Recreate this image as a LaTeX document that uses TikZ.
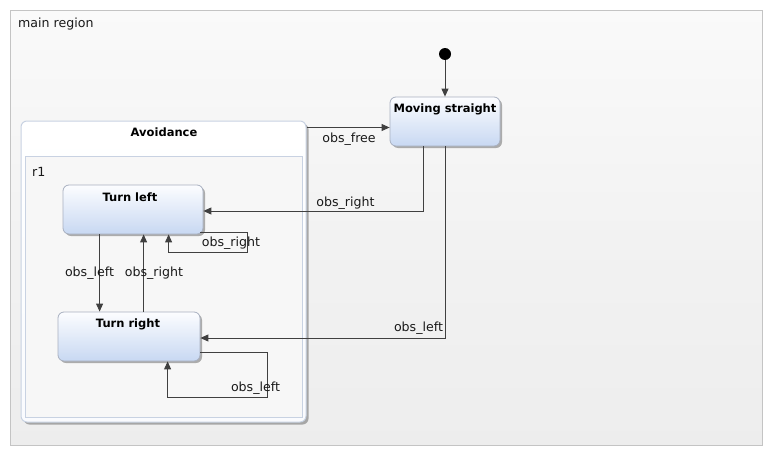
\documentclass[tikz,border=0pt]{standalone}
\usepackage{fontspec}
\setmainfont{DejaVu Sans}
\usetikzlibrary{arrows.meta,shadows,calc}
\definecolor{linec}{HTML}{404040}
\definecolor{stbot}{HTML}{C8D8F2}
\definecolor{sttop}{HTML}{FCFDFF}
\definecolor{stborder}{HTML}{A8B0C0}
\definecolor{regborder}{HTML}{C4C4C4}
\definecolor{r1border}{HTML}{C8D2E2}
\tikzset{
  lbl/.style={inner sep=0pt, font=\fontsize{12.6}{14}\selectfont, text=black!90},
  ttl/.style={inner sep=0pt, font=\fontsize{11.5}{14}\selectfont\bfseries, text=black},
  mainreg/.style={draw=regborder, line width=0.8pt, top color=black!2, bottom color=black!7, middle color=black!5, minimum width=752, minimum height=435, inner sep=0pt},
  statebox/.style={draw=stborder, line width=0.8pt, rounded corners=6pt, top color=sttop, bottom color=stbot, inner sep=0pt, minimum height=49,
    drop shadow={shadow xshift=2pt, shadow yshift=-2pt, opacity=0.3, fill=black}},
  compbox/.style={draw=r1border, line width=1pt, rounded corners=6pt, top color=white, bottom color=white!90!stbot, inner sep=0pt,
    drop shadow={shadow xshift=2.5pt, shadow yshift=-2.5pt, opacity=0.3, fill=black}},
  regbox/.style={draw=r1border, line width=0.8pt, fill=black!3, inner sep=0pt},
  tr/.style={draw=linec, line width=0.9pt, -{Triangle[length=8pt,width=7pt]}},
  initst/.style={circle, fill=black, minimum size=12pt, inner sep=0pt},
}
\begin{document}
\begin{tikzpicture}[x=1pt,y=-1pt]
\useasboundingbox (0,0) rectangle (773,455);
\node[mainreg] (main) at (386.5,227.5) {};
\node[lbl, anchor=west] (mainlbl) at (18,24) {main region};

% Avoidance composite state
\node[compbox, minimum width=285, minimum height=301] (avoid) at (163.5,271.5) {};
\node[ttl] (avoidttl) at (164,132) {Avoidance};
\node[regbox, minimum width=277, minimum height=261] (r1) at (163.5,286.5) {};
\node[lbl, anchor=west] (r1lbl) at (32,172) {r1};

% states
\node[initst] (init) at (445,54) {};
\node[statebox, minimum width=110] (ms) at (445,121.5) {};
\node[ttl] (msttl) at (445,109) {Moving straight};
\node[statebox, minimum width=140] (tl) at (133,209.5) {};
\node[ttl] (tlttl) at (130,197) {Turn left};
\node[statebox, minimum width=142] (tr) at (129,336.5) {};
\node[ttl] (trttl) at (128,324) {Turn right};

% transitions
\draw[tr] (init) -- (ms.north);
\coordinate (freestart) at ($(avoid.north east)+(0,7)$);
\draw[tr] (freestart) -- (freestart -| ms.west);
\node[lbl] (lfree) at (349,139) {obs\_free};

\draw[tr] ($(ms.south)+(-22,0)$) |- ($(tl.east)+(0,1.5)$);
\node[lbl] (lright1) at (345.5,203) {obs\_right};

\draw[tr] (ms.south) |- ($(tr.east)+(0,1.5)$);
\node[lbl] (lleft1) at (418.5,328.5) {obs\_left};

\draw[tr] ($(tl.south east)+(-3,-2)$) -| (247,252) -| ($(tl.south west)+(106,0)$);
\node[lbl] (lright2) at (231,243) {obs\_right};

\draw[tr] ($(tr.south east)+(0,-9)$) -| (267,397) -| ($(tr.south west)+(110,0)$);
\node[lbl] (lleft2) at (255.5,388) {obs\_left};

\draw[tr] ($(tl.south west)+(37,0)$) -- ($(tr.north west)+(42,0)$);
\node[lbl] (lleft3) at (89.5,273) {obs\_left};

\draw[tr] ($(tr.north west)+(86,0)$) -- ($(tl.south west)+(81,0)$);
\node[lbl] (lright3) at (154,273) {obs\_right};
\end{tikzpicture}
\end{document}
